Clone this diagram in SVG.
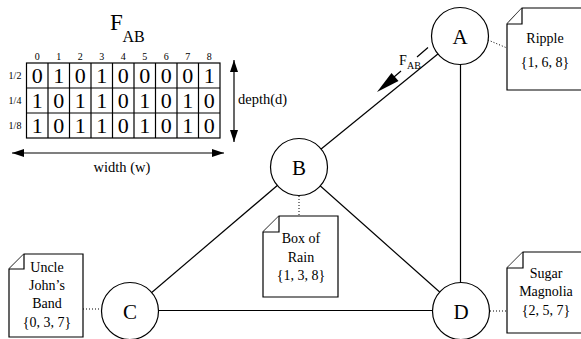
<svg xmlns="http://www.w3.org/2000/svg" width="581" height="339" viewBox="0 0 581 339">
<defs>
<style>
text{font-family:"Liberation Serif","Times New Roman",serif;fill:#000}
.node circle{fill:#fff;stroke:#000;stroke-width:1.2}
.node text{font-size:21px;text-anchor:middle}
.edge{stroke:#000;stroke-width:1.2;fill:none}
.dot{stroke:#000;stroke-width:1;stroke-dasharray:1 2;fill:none}
.note path{fill:#fff;stroke:#000;stroke-width:1.2}
.note text{font-size:14px;text-anchor:middle}
.cell{fill:none;stroke:#000;stroke-width:1.2}
.dig{font-size:22px;text-anchor:middle}
.sm{font-size:10px;text-anchor:middle}
</style>
<marker id="ah" viewBox="0 0 12 8" refX="12" refY="4" markerWidth="12" markerHeight="8" markerUnits="userSpaceOnUse" orient="auto-start-reverse">
<path d="M0,0 L12,4 L0,8 Z" fill="#000"/>
</marker>
</defs>
<rect width="581" height="339" fill="#fff"/>

<g id="table">
<text x="110" y="30" font-size="23">F</text>
<text x="122.5" y="42" font-size="16">AB</text>
<rect class="cell" x="26.5" y="63" width="193.5" height="75"/>
<path class="cell" d="M48 63V138M69.5 63V138M91 63V138M112.5 63V138M134 63V138M155.5 63V138M177 63V138M198.5 63V138M26.5 88H220M26.5 113H220"/>
<g class="sm">
<text x="37.2" y="60">0</text><text x="58.7" y="60">1</text><text x="80.2" y="60">2</text><text x="101.7" y="60">3</text><text x="123.2" y="60">4</text><text x="144.7" y="60">5</text><text x="166.2" y="60">6</text><text x="187.7" y="60">7</text><text x="209.2" y="60">8</text>
<text x="15" y="79">1/2</text><text x="15" y="104">1/4</text><text x="15" y="129">1/8</text>
</g>
<g class="dig">
<text x="37.2" y="83">0</text><text x="58.7" y="83">1</text><text x="80.2" y="83">0</text><text x="101.7" y="83">1</text><text x="123.2" y="83">0</text><text x="144.7" y="83">0</text><text x="166.2" y="83">0</text><text x="187.7" y="83">0</text><text x="209.2" y="83">1</text>
<text x="37.2" y="108">1</text><text x="58.7" y="108">0</text><text x="80.2" y="108">1</text><text x="101.7" y="108">1</text><text x="123.2" y="108">0</text><text x="144.7" y="108">1</text><text x="166.2" y="108">0</text><text x="187.7" y="108">1</text><text x="209.2" y="108">0</text>
<text x="37.2" y="133">1</text><text x="58.7" y="133">0</text><text x="80.2" y="133">1</text><text x="101.7" y="133">1</text><text x="123.2" y="133">0</text><text x="144.7" y="133">1</text><text x="166.2" y="133">0</text><text x="187.7" y="133">1</text><text x="209.2" y="133">0</text>
</g>
<line class="edge" x1="234" y1="60" x2="234" y2="142" marker-start="url(#ah)" marker-end="url(#ah)"/>
<text x="238" y="104" font-size="14.5">depth(d)</text>
<line class="edge" x1="12" y1="153" x2="224" y2="153" marker-start="url(#ah)" marker-end="url(#ah)"/>
<text x="122" y="172" font-size="14.5" text-anchor="middle">width (w)</text>
</g>

<g id="connectors">
<line class="edge" x1="460" y1="36" x2="299" y2="167"/>
<line class="edge" x1="460.5" y1="36" x2="460.5" y2="311"/>
<line class="edge" x1="299" y1="167" x2="130" y2="311"/>
<line class="edge" x1="299" y1="167" x2="461" y2="311"/>
<line class="edge" x1="130" y1="310.5" x2="461" y2="310.5"/>
<line class="dot" x1="488" y1="40" x2="507" y2="48"/>
<line class="dot" x1="299" y1="196" x2="299" y2="216"/>
<line class="dot" x1="83" y1="309" x2="101" y2="309"/>
<line class="dot" x1="490" y1="311" x2="507" y2="311"/>
<path class="edge" d="M428,47.5 L417,57 M401,71 L394,77"/>
<path d="M377,92 L391.5,73 L398.5,81 Z" fill="#000"/>
<text x="399" y="65" font-size="14">F</text>
<text x="407" y="69" font-size="10">AB</text>
</g>

<g id="A" class="node"><circle cx="460" cy="36" r="28.5"/><text x="460" y="43.5">A</text></g>
<g id="B" class="node"><circle cx="299" cy="167" r="28.5"/><text x="299" y="174.5">B</text></g>
<g id="C" class="node"><circle cx="130" cy="311" r="28.5"/><text x="130" y="318.5">C</text></g>
<g id="D" class="node"><circle cx="461" cy="311" r="28.5"/><text x="461" y="318.5">D</text></g>

<g id="note-ripple" class="note">
<path d="M507,24 L522,8 L582,8 L582,90 L507,90 Z"/>
<path d="M507,24 L522,24 L522,8"/>
<text x="545" y="43">Ripple</text>
<text x="545" y="67">{1, 6, 8}</text>
</g>
<g id="note-boxofrain" class="note">
<path d="M263,232 L279,216 L338,216 L338,297 L263,297 Z"/>
<path d="M263,232 L279,232 L279,216"/>
<text x="301" y="243">Box of</text>
<text x="301" y="262">Rain</text>
<text x="301" y="280">{1, 3, 8}</text>
</g>
<g id="note-uncle" class="note">
<path d="M9,269 L24,254 L83,254 L83,337 L9,337 Z"/>
<path d="M9,269 L24,269 L24,254"/>
<text x="47" y="272">Uncle</text>
<text x="47" y="290">John’s</text>
<text x="47" y="308">Band</text>
<text x="47" y="327">{0, 3, 7}</text>
</g>
<g id="note-sugar" class="note">
<path d="M507,268 L523,252 L582,252 L582,333 L507,333 Z"/>
<path d="M507,268 L523,268 L523,252"/>
<text x="546" y="278">Sugar</text>
<text x="546" y="296">Magnolia</text>
<text x="546" y="315">{2, 5, 7}</text>
</g>
</svg>
